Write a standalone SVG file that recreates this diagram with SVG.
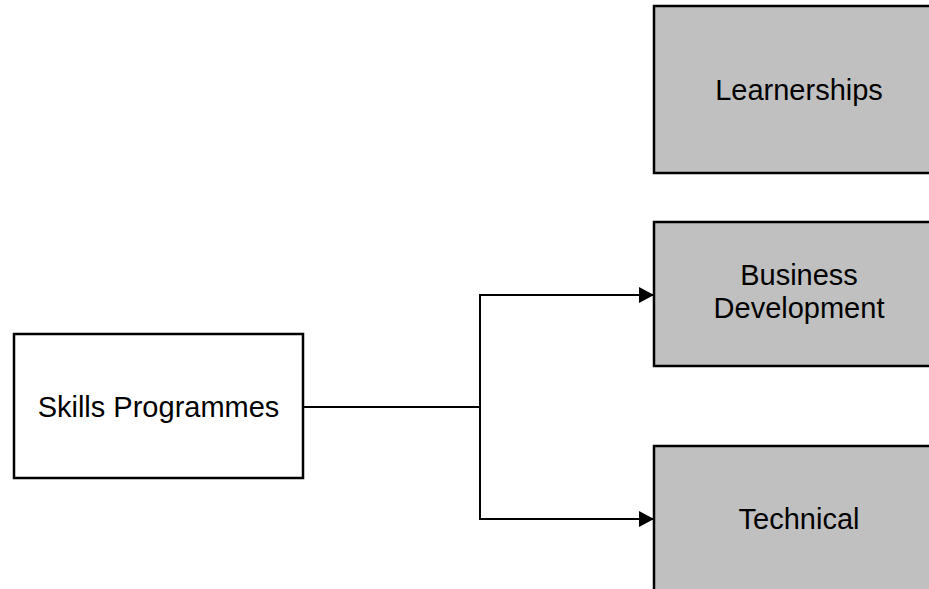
<svg xmlns="http://www.w3.org/2000/svg" width="929" height="589" viewBox="0 0 929 589">
  <style>
    .box { stroke: #000; stroke-width: 2.5; }
    .plain { fill: #fff; }
    .shaded { fill: #c0c0c0; }
    .label { font-family: "Liberation Sans", Arial, sans-serif; font-size: 29px; fill: #000; text-anchor: middle; }
    .link { fill: none; stroke: #000; stroke-width: 2; }
  </style>
  <defs>
    <marker id="arrow" markerUnits="userSpaceOnUse" markerWidth="15" markerHeight="16" refX="15" refY="8" orient="auto">
      <path d="M0,0 L15,8 L0,16 Z" fill="#000"/>
    </marker>
  </defs>
  <rect width="929" height="589" fill="#fff"/>

  <g id="connectors">
    <polyline class="link" points="303,407 480,407"/>
    <polyline class="link" points="480,407 480,295 654,295" marker-end="url(#arrow)"/>
    <polyline class="link" points="480,407 480,519 654,519" marker-end="url(#arrow)"/>
  </g>

  <g id="skills-programmes">
    <rect class="box plain" x="14" y="334" width="289" height="144"/>
    <text class="label" x="158.5" y="417">Skills Programmes</text>
  </g>

  <g id="learnerships">
    <rect class="box shaded" x="654" y="6" width="290" height="167"/>
    <text class="label" x="799" y="100">Learnerships</text>
  </g>

  <g id="business-development">
    <rect class="box shaded" x="654" y="222" width="290" height="144"/>
    <text class="label" x="799" y="285">Business</text>
    <text class="label" x="799" y="318">Development</text>
  </g>

  <g id="technical">
    <rect class="box shaded" x="654" y="446" width="290" height="160"/>
    <text class="label" x="799" y="529">Technical</text>
  </g>
</svg>
